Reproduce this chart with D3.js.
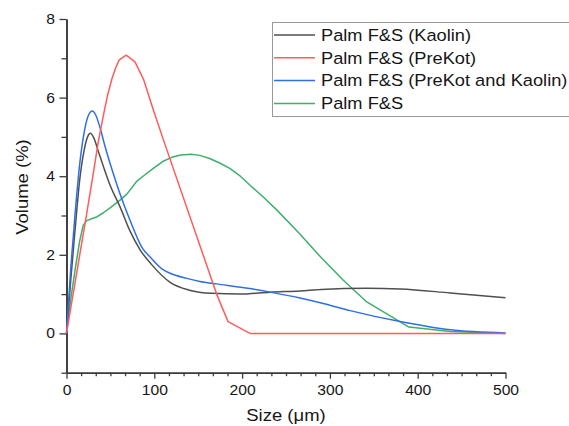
<!DOCTYPE html>
<html><head><meta charset="utf-8">
<script src="https://cdn.jsdelivr.net/npm/d3@7"></script>
<style>
body{margin:0;background:#fff;}
svg{display:block;font-family:"Liberation Sans",Arial,Helvetica,sans-serif;}
</style>
</head><body>
<svg id="chart" width="569" height="426"></svg>
<script>
// ---- data ----
const seriesNames = ["Palm F&S (Kaolin)", "Palm F&S (PreKot)", "Palm F&S (PreKot and Kaolin)", "Palm F&S"];
const seriesColors = ["#4f4f4f", "#ff5c5c", "#2f6fe6", "#3db06c"];

const kaolinSize   = [0, 5, 10, 15, 20, 24, 27, 31, 36, 42, 50, 61, 72, 84, 97, 118, 140, 165, 198, 232, 266, 290, 342, 380, 437, 500];
const kaolinVolume = [0, 1.4, 2.7, 3.9, 4.65, 5.0, 5.09, 4.98, 4.65, 4.25, 3.75, 3.22, 2.62, 2.12, 1.75, 1.3, 1.1, 1.02, 1.0, 1.05, 1.08, 1.12, 1.15, 1.13, 1.03, 0.91];

const prekotSize   = [0, 23, 30, 36, 42, 47, 52, 56, 60, 68, 78, 88, 98, 110, 171, 184, 209, 500];
const prekotVolume = [0, 3.05, 4.0, 4.85, 5.55, 6.08, 6.5, 6.76, 6.96, 7.08, 6.91, 6.45, 5.75, 4.95, 1.0, 0.3, 0, 0];

const bothSize   = [0, 5, 10, 15, 20, 25, 29.5, 33, 38, 44, 50, 55, 61, 72, 87, 95, 110, 118, 137, 152, 171, 209, 232, 266, 289, 323, 380, 437, 500];
const bothVolume = [0, 1.7, 3.1, 4.3, 5.1, 5.55, 5.66, 5.57, 5.25, 4.75, 4.3, 3.95, 3.55, 2.9, 2.15, 1.95, 1.62, 1.53, 1.4, 1.32, 1.26, 1.14, 1.05, 0.9, 0.78, 0.58, 0.3, 0.09, 0.01];

const palmSize   = [0, 5, 10, 15, 19, 23, 30, 35, 42, 50, 61, 69, 80, 90, 100, 110, 120, 130, 142, 152, 163, 175, 186, 198, 210, 225, 240, 265, 290, 315, 342, 390, 437, 500];
const palmVolume = [0, 0.9, 1.65, 2.35, 2.75, 2.87, 2.93, 2.97, 3.07, 3.2, 3.39, 3.55, 3.87, 4.05, 4.22, 4.38, 4.48, 4.54, 4.56, 4.53, 4.45, 4.33, 4.2, 4.0, 3.75, 3.45, 3.13, 2.55, 1.93, 1.36, 0.8, 0.16, 0.05, 0];

const xTickLabels = [0, 100, 200, 300, 400, 500];
const yTickLabels = [0, 2, 4, 6, 8];
const xTitle = "Size (\u03bcm)";
const yTitle = "Volume (%)";

// ---- layout ----
const svg = d3.select("#chart");
const x = d3.scaleLinear().domain([0, 500]).range([66.5, 505.5]);
const y = d3.scaleLinear().domain([-1, 8]).range([372.7, 19]);
const SX = 1.12; // horizontal text stretch of the reference
const axisColor = "#3a3a3a";
const textColor = "#161616";

const xMinor = d3.range(0, 501, 100 / 6).filter(v => Math.abs(v / 100 - Math.round(v / 100)) > 1e-6);
const yMinor = [-1, 1, 3, 5, 7];

// x axis minor
const gxm = svg.append("g").attr("transform", `translate(0,${y(-1)})`)
  .call(d3.axisBottom(x).tickValues(xMinor).tickSize(3.5).tickSizeOuter(0).tickFormat(""));
// x axis major
const gx = svg.append("g").attr("transform", `translate(0,${y(-1)})`)
  .call(d3.axisBottom(x).tickValues(xTickLabels).tickSize(6).tickSizeOuter(0).tickPadding(6.5));
gx.selectAll("text").attr("font-size", 14).attr("fill", textColor)
  .attr("transform", `scale(${SX},1)`);

// y axis minor
const gym = svg.append("g").attr("transform", `translate(${x(0)},0)`)
  .call(d3.axisLeft(y).tickValues(yMinor).tickSize(5).tickSizeOuter(0).tickFormat(""));
// y axis major
const gy = svg.append("g").attr("transform", `translate(${x(0)},0)`)
  .call(d3.axisLeft(y).tickValues(yTickLabels).tickSize(7).tickSizeOuter(0));
gy.selectAll("text").attr("font-size", 14).attr("fill", textColor)
  .attr("x", -11.5 / SX).attr("transform", `scale(${SX},1)`);

[gxm, gx, gym, gy].forEach(g => {
  g.selectAll("path.domain").attr("stroke", axisColor).attr("stroke-width", 1.6);
  g.selectAll("line").attr("stroke", axisColor).attr("stroke-width", 1.3);
});

// axis titles
svg.append("text").attr("x", (x(0) + x(500)) / 2 / SX).attr("y", 421)
  .attr("transform", `scale(${SX},1)`)
  .attr("text-anchor", "middle").attr("font-size", 16.5).attr("fill", textColor).text(xTitle);
svg.append("text").attr("transform", `translate(28,187) rotate(-90) scale(${SX},1)`)
  .attr("text-anchor", "middle").attr("font-size", 16.5).attr("fill", textColor).text(yTitle);

// ---- lines ----
const series = [
  {size: kaolinSize, vol: kaolinVolume, curve: d3.curveMonotoneX},
  {size: prekotSize, vol: prekotVolume, curve: d3.curveLinear},
  {size: bothSize, vol: bothVolume, curve: d3.curveMonotoneX},
  {size: palmSize, vol: palmVolume, curve: d3.curveLinear}
];
const drawOrder = [3, 0, 2, 1];
drawOrder.forEach(i => {
  const s = series[i];
  const pts = s.size.map((v, k) => [v, s.vol[k]]);
  svg.append("path").datum(pts)
    .attr("fill", "none").attr("stroke", seriesColors[i]).attr("stroke-width", 1.5)
    .attr("stroke-linejoin", "round")
    .attr("d", d3.line().x(d => x(d[0])).y(d => y(d[1])).curve(s.curve));
});

// ---- legend ----
const lg = svg.append("g");
lg.append("rect").attr("x", 272.5).attr("y", 22.5).attr("width", 310).attr("height", 94)
  .attr("fill", "#fff").attr("stroke", "#999").attr("stroke-width", 1);
seriesNames.forEach((name, i) => {
  const cy = 35 + i * 22.8;
  lg.append("line").attr("x1", 274).attr("x2", 315).attr("y1", cy).attr("y2", cy)
    .attr("stroke", seriesColors[i]).attr("stroke-width", 1.5);
  lg.append("text").attr("x", 321 / SX).attr("y", cy + 5.8)
    .attr("transform", `scale(${SX},1)`)
    .attr("font-size", 16.3).attr("fill", textColor).text(name);
});
</script>
</body></html>
